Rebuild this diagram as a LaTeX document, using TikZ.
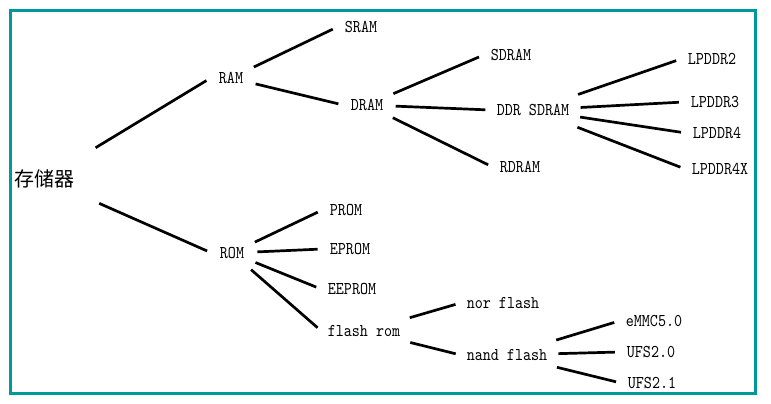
\documentclass[tikz,border=0pt]{standalone}
\usepackage{fontspec}
\usepackage{tikz}
\newfontfamily\labelfont[FakeStretch=0.85]{lmmono10-regular.otf}
\newfontfamily\cjkfont{Noto Sans CJK SC}
\definecolor{framecol}{RGB}{0,153,153}

\begin{document}
\begin{tikzpicture}[x=1pt, y=-1pt,
        item/.style={circle, inner sep=5pt, font=\labelfont\fontsize{18}{20}\selectfont},
        rootitem/.style={circle, inner sep=18pt, font=\cjkfont\fontsize{20}{22}\selectfont},
        branch/.style={line width=2.7pt, shorten <=5pt, shorten >=5pt}]
        \useasboundingbox (0,0) rectangle (771,404);
        \draw[framecol, line width=3pt] (10.5,10.5) rectangle (755,393.5);

        \node[rootitem] (mem) at (44,179) {存储器};
        \node[item] (ram) at (231,78) {RAM};
        \node[item] (rom) at (232,253) {ROM};
        \node[item] (sram) at (361,27) {SRAM};
        \node[item] (dram) at (367,105) {DRAM};
        \node[item] (sdram) at (511,55) {SDRAM};
        \node[item] (ddr) at (533,110) {DDR SDRAM};
        \node[item] (rdram) at (520,167) {RDRAM};
        \node[item] (lp2) at (712,59) {LPDDR2};
        \node[item] (lp3) at (715,102) {LPDDR3};
        \node[item] (lp4) at (717,133) {LPDDR4};
        \node[item] (lp4x) at (720,169) {LPDDR4X};
        \node[item] (prom) at (346,210) {PROM};
        \node[item] (eprom) at (350,249) {EPROM};
        \node[item] (eeprom) at (352,289) {EEPROM};
        \node[item] (flash) at (364,331) {flash rom};
        \node[item] (nor) at (503,303) {nor flash};
        \node[item] (nand) at (507,355) {nand flash};
        \node[item] (emmc) at (654,321) {eMMC5.0};
        \node[item] (ufs20) at (651,352) {UFS2.0};
        \node[item] (ufs21) at (652,383) {UFS2.1};

        \draw[branch] (mem) -- (ram.west);
        \draw[branch] (mem) -- (rom.west);
        \draw[branch] (ram) -- (sram.west);
        \draw[branch] (ram) -- (dram.west);
        \draw[branch] (dram) -- (sdram.west);
        \draw[branch] (dram) -- (ddr.west);
        \draw[branch] (dram) -- (rdram.west);
        \draw[branch] (ddr) -- (lp2.west);
        \draw[branch] (ddr) -- (lp3.west);
        \draw[branch] (ddr) -- (lp4.west);
        \draw[branch] (ddr) -- (lp4x.west);
        \draw[branch] (rom) -- (prom.west);
        \draw[branch] (rom) -- (eprom.west);
        \draw[branch] (rom) -- (eeprom.west);
        \draw[branch] (rom) -- (flash.west);
        \draw[branch] (flash) -- (nor.west);
        \draw[branch] (flash) -- (nand.west);
        \draw[branch] (nand) -- (emmc.west);
        \draw[branch] (nand) -- (ufs20.west);
        \draw[branch] (nand) -- (ufs21.west);
    \end{tikzpicture}
\end{document}
